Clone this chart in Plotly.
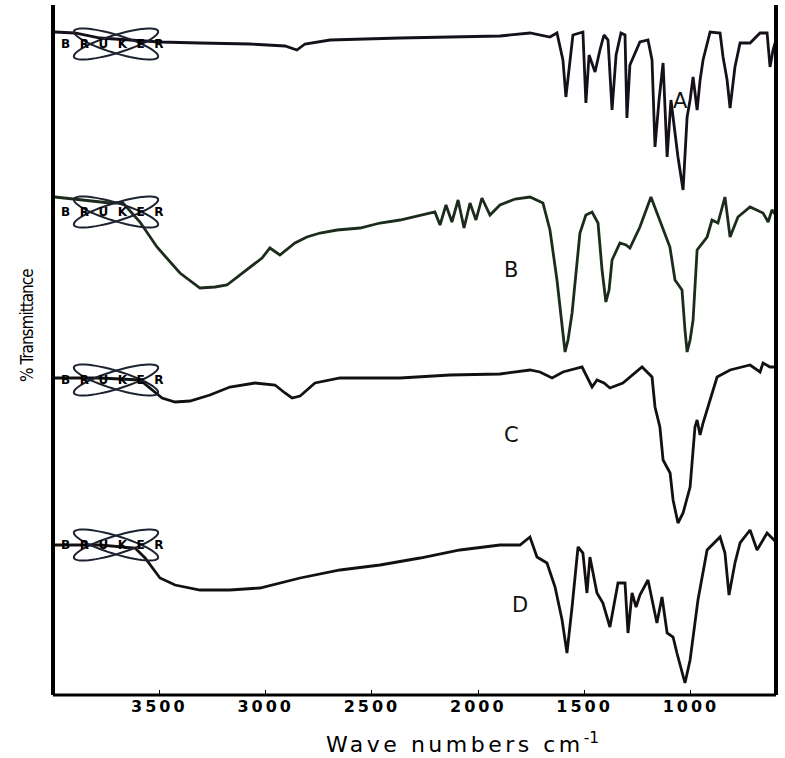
import numpy as np
import plotly.graph_objects as go

# ---- data (wavenumber cm^-1, relative transmittance with vertical offset) ----
wn_A = [3991, 3897, 3779, 3638, 3497, 3309, 3074, 2909, 2853, 2815, 2697, 2368, 2133, 1898, 1757, 1686,
        1663, 1630, 1602, 1588, 1573, 1555, 1508, 1494, 1479, 1451, 1428, 1409, 1390, 1371, 1352, 1329,
        1310, 1301, 1287, 1268, 1240, 1202, 1183, 1169, 1150, 1131, 1112, 1094, 1080, 1061, 1037, 1018,
        1004, 990, 971, 957, 943, 910, 863, 849, 830, 816, 793, 769, 722, 675, 642, 628, 614, 600]
t_A = [663, 662, 657, 655, 653, 652, 651, 649, 645, 651, 655, 657, 658, 659, 662, 659,
       658, 662, 635, 598, 625, 660, 663, 592, 640, 623, 645, 660, 655, 585, 640, 662,
       660, 577, 630, 640, 653, 655, 635, 548, 595, 632, 538, 595, 570, 538, 505, 578,
       595, 618, 585, 615, 635, 663, 662, 638, 615, 587, 628, 652, 652, 662, 662, 628, 645, 655]

wn_B = [3991, 3873, 3732, 3671, 3591, 3511, 3450, 3403, 3309, 3238, 3182, 3088, 3017, 2980, 2933, 2862,
        2806, 2744, 2664, 2556, 2462, 2368, 2274, 2204, 2180, 2152, 2124, 2095, 2067, 2039, 2011, 1983,
        1945, 1898, 1827, 1757, 1696, 1663, 1630, 1606, 1592, 1578, 1559, 1522, 1494, 1465, 1437, 1418,
        1400, 1385, 1371, 1334, 1305, 1287, 1240, 1188, 1146, 1099, 1075, 1042, 1028, 1018, 1004, 990,
        971, 924, 901, 873, 840, 816, 779, 722, 661, 637, 619, 600]
t_B = [498, 495, 492, 492, 473, 448, 433, 422, 407, 408, 410, 425, 437, 447, 440, 452,
       458, 462, 465, 467, 472, 475, 480, 483, 470, 490, 473, 495, 467, 492, 475, 497,
       480, 490, 496, 498, 492, 465, 415, 365, 343, 355, 382, 462, 480, 483, 472, 425,
       393, 405, 435, 452, 450, 447, 468, 498, 475, 448, 415, 405, 365, 343, 355, 375,
       445, 458, 475, 472, 498, 458, 478, 488, 482, 473, 485, 480]

wn_C = [3991, 3779, 3591, 3544, 3487, 3426, 3356, 3262, 3168, 3050, 2956, 2909, 2876, 2838, 2768, 2650,
        2368, 2133, 1898, 1757, 1710, 1653, 1602, 1512, 1465, 1442, 1409, 1381, 1320, 1230, 1183, 1169,
        1146, 1131, 1098, 1084, 1061, 1037, 1004, 981, 971, 957, 943, 910, 877, 816, 722, 675, 661, 628, 600]
t_C = [317, 317, 315, 307, 297, 293, 294, 300, 308, 312, 310, 302, 297, 299, 312, 317,
       317, 320, 321, 325, 323, 317, 323, 328, 308, 315, 312, 307, 312, 328, 318, 288,
       268, 235, 222, 195, 172, 182, 208, 268, 275, 260, 272, 295, 318, 325, 330, 323, 332, 328, 328]

wn_D = [3991, 3779, 3614, 3567, 3497, 3426, 3309, 3168, 3027, 2838, 2650, 2462, 2274, 2086, 1898, 1804,
        1757, 1724, 1677, 1639, 1606, 1583, 1559, 1531, 1508, 1489, 1475, 1442, 1414, 1381, 1343, 1310,
        1296, 1277, 1258, 1240, 1202, 1160, 1136, 1112, 1084, 1066, 1028, 1004, 967, 924, 863, 840,
        821, 793, 769, 722, 689, 642, 600]
t_D = [150, 150, 147, 137, 117, 110, 105, 105, 107, 117, 125, 130, 137, 145, 150, 150,
       158, 138, 132, 108, 75, 42, 88, 148, 142, 102, 138, 102, 92, 68, 112, 112,
       62, 102, 88, 100, 115, 72, 98, 62, 58, 42, 12, 35, 95, 145, 158, 142,
       100, 132, 152, 165, 145, 162, 153]

sample_labels = ["A", "B", "C", "D"]
label_wn = [1050, 1846, 1846, 1804]
label_t = [594, 425, 260, 90]
logo_t = [651, 483, 315, 150]

tick_vals = [3500, 3000, 2500, 2000, 1500, 1000]

X_RANGE = [4000, 600]
Y_RANGE = [0, 690]


def spaced(s, px):
    return '<span style="letter-spacing:%.1fpx">%s</span>' % (px, s)


fig = go.Figure()
series = [(wn_A, t_A, "#15101a"), (wn_B, t_B, "#1b2c1b"), (wn_C, t_C, "#111111"), (wn_D, t_D, "#141010")]
for (wx, ty, col), name in zip(series, sample_labels):
    fig.add_trace(go.Scatter(x=wx, y=ty, mode="lines", name=name,
                             line=dict(color=col, width=2.8), showlegend=False, hoverinfo="skip"))

# sample letters
for lab, lx, ly in zip(sample_labels, label_wn, label_t):
    fig.add_annotation(x=lx, y=ly, xref="x", yref="y", text=lab, showarrow=False,
                       font=dict(family="DejaVu Sans", size=21, color="#111"))


# Bruker logos (decoration)
def wn_of(px):
    return X_RANGE[0] - (px - 53) * (X_RANGE[0] - X_RANGE[1]) / 723.0


for ly in logo_t:
    cx, cy = 116.0, ly
    for ang in (17, -17):
        th = np.linspace(0, 2 * np.pi, 60)
        a, b = 44.0, 9.0
        xs = a * np.cos(th)
        ys = b * np.sin(th)
        r = np.deg2rad(ang)
        xr = xs * np.cos(r) - ys * np.sin(r)
        yr = xs * np.sin(r) + ys * np.cos(r)
        pts = ["%s%.2f,%.2f" % ("M" if i == 0 else "L", wn_of(cx + xx), cy + yy)
               for i, (xx, yy) in enumerate(zip(xr, yr))]
        fig.add_shape(type="path", path=" ".join(pts) + " Z", xref="x", yref="y",
                      line=dict(color="#1c2230", width=2), fillcolor="rgba(0,0,0,0)", layer="above")
    fig.add_annotation(x=wn_of(117), y=cy, xref="x", yref="y", text=spaced("BRUKER", 9.5), showarrow=False,
                       font=dict(family="DejaVu Sans", size=12, color="#000", weight="bold"))

# frame lines (left, right, bottom; no top)
fig.add_shape(type="line", xref="paper", yref="paper", x0=0, x1=0, y0=0, y1=1, line=dict(color="#000", width=4))
fig.add_shape(type="line", xref="paper", yref="paper", x0=1, x1=1, y0=0, y1=1, line=dict(color="#000", width=4))
fig.add_shape(type="line", xref="paper", yref="paper", x0=0, x1=1, y0=0, y1=0, line=dict(color="#000", width=3))

# axis titles
fig.add_annotation(xref="paper", yref="paper", x=(462 - 53) / 723.0, y=-(743 - 695) / 690.0,
                   text=spaced("Wave numbers cm", 3.5) + "<sup>-1</sup>", showarrow=False,
                   xanchor="center", yanchor="middle",
                   font=dict(family="DejaVu Sans", size=22, color="#000"))
fig.add_annotation(xref="paper", yref="paper", x=-(53 - 27) / 723.0, y=(695 - 326) / 690.0,
                   text=spaced("% Transmittance", -1), textangle=-90, showarrow=False,
                   xanchor="center", yanchor="middle",
                   font=dict(family="DejaVu Sans Condensed, DejaVu Sans, sans-serif", size=17, color="#000"))

fig.update_layout(
    width=785, height=758,
    margin=dict(l=53, r=9, t=5, b=63),
    paper_bgcolor="white", plot_bgcolor="white",
    xaxis=dict(range=X_RANGE, tickvals=tick_vals, ticktext=[spaced(str(v), 3) for v in tick_vals],
               ticks="inside", ticklen=5, tickwidth=1, tickcolor="#000",
               showgrid=False, zeroline=False, showline=False,
               tickfont=dict(family="DejaVu Sans", size=16, color="#000", weight="bold")),
    yaxis=dict(range=Y_RANGE, showticklabels=False, showgrid=False, zeroline=False, ticks=""),
)

fig.write_html("out.html", config={"displayModeBar": False},
               post_script="document.body.style.margin='0';document.body.style.padding='0';")
